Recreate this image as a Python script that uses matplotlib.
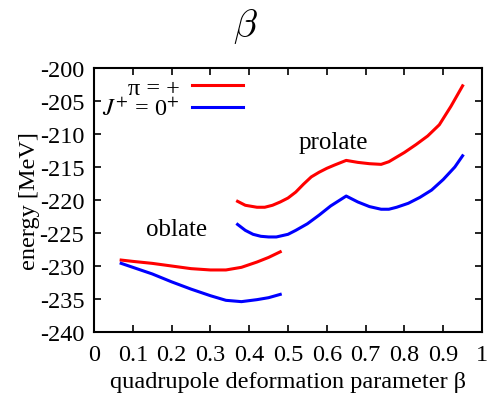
import matplotlib
matplotlib.use("Agg")
import matplotlib.pyplot as plt

# data
beta_obl = [0.07, 0.10, 0.15, 0.20, 0.25, 0.30, 0.34, 0.38, 0.42, 0.45, 0.48]
e_red_obl = [-229.1, -229.3, -229.6, -230.0, -230.4, -230.6, -230.6, -230.2, -229.4, -228.7, -227.85]
e_blue_obl = [-229.6, -230.2, -231.2, -232.4, -233.5, -234.5, -235.2, -235.4, -235.1, -234.8, -234.3]

beta_red_pro = [0.37, 0.39, 0.42, 0.44, 0.46, 0.48, 0.50, 0.52, 0.54, 0.56, 0.58, 0.60,
                0.62, 0.65, 0.68, 0.71, 0.74, 0.76, 0.78, 0.80, 0.83, 0.86, 0.89, 0.92, 0.95]
e_red_pro = [-220.2, -220.8, -221.1, -221.1, -220.8, -220.3, -219.7, -218.8, -217.6, -216.5,
             -215.8, -215.2, -214.7, -214.0, -214.3, -214.5, -214.6, -214.2, -213.5, -212.8,
             -211.6, -210.3, -208.6, -205.8, -202.7]

beta_blue_pro = [0.37, 0.39, 0.41, 0.43, 0.45, 0.47, 0.50, 0.52, 0.55, 0.58, 0.61, 0.65,
                 0.68, 0.71, 0.74, 0.76, 0.78, 0.81, 0.84, 0.87, 0.90, 0.93, 0.95]
e_blue_pro = [-223.7, -224.6, -225.2, -225.5, -225.6, -225.6, -225.2, -224.6, -223.6, -222.3,
              -220.9, -219.4, -220.3, -221.0, -221.4, -221.4, -221.1, -220.5, -219.6, -218.5,
              -216.9, -215.0, -213.3]

xticks = [0, 0.1, 0.2, 0.3, 0.4, 0.5, 0.6, 0.7, 0.8, 0.9, 1]
xticklabels = ["0", "0.1", "0.2", "0.3", "0.4", "0.5", "0.6", "0.7", "0.8", "0.9", "1"]
yticks = list(range(-240, -199, 5))

plt.rcParams['font.family'] = ['Liberation Serif', 'DejaVu Serif']
plt.rcParams['mathtext.fontset'] = 'stix'
plt.rcParams['axes.unicode_minus'] = False
fs = 17.5

fig = plt.figure(figsize=(4.91, 4.02), dpi=100)
ax = fig.add_axes([94 / 491, 69 / 402, 388 / 491, 264 / 402])

lw = 2.2
l_red, = ax.plot(beta_red_pro, e_red_pro, color='red', lw=lw)
l_blue, = ax.plot(beta_blue_pro, e_blue_pro, color='blue', lw=lw)
ax.plot(beta_obl, e_red_obl, color='red', lw=lw)
ax.plot(beta_obl, e_blue_obl, color='blue', lw=lw)

ax.text(0.616, -211.2, 'prolate', fontsize=18, ha='center', va='center')
ax.text(0.214, -224.4, 'oblate', fontsize=18, ha='center', va='center')

ax.set_xlim(0, 1)
ax.set_ylim(-240, -200)
ax.set_xticks(xticks)
ax.set_xticklabels(xticklabels)
ax.set_yticks(yticks)
ax.tick_params(direction='in', top=True, right=True, length=5, width=1.2,
               labelsize=fs)
ax.tick_params(axis='x', pad=9)
ax.tick_params(axis='y', pad=7)
for s in ax.spines.values():
    s.set_linewidth(1.5)

ax.set_xlabel('quadrupole deformation parameter β', fontsize=fs, labelpad=4)
ax.set_ylabel('energy [MeV]', fontsize=fs, labelpad=0)

# two one-entry legends so that the labels are right aligned
kw = dict(frameon=False, markerfirst=False, fontsize=fs, handlelength=2.1,
          handletextpad=0.5, borderpad=0, borderaxespad=0, loc='center right')
leg1 = ax.legend([l_red], ['π = +'], bbox_to_anchor=(0.384, 0.925), **kw)
ax.add_artist(leg1)
ax.legend([l_blue], [r'$J^{+}$ = 0$^{+}$'], bbox_to_anchor=(0.384, 0.845), **kw)

fig.text(0.5, 0.935, r'$\beta$', fontsize=28, ha='center', va='center',
         math_fontfamily='cm')

fig.savefig('out.png', dpi=100)
